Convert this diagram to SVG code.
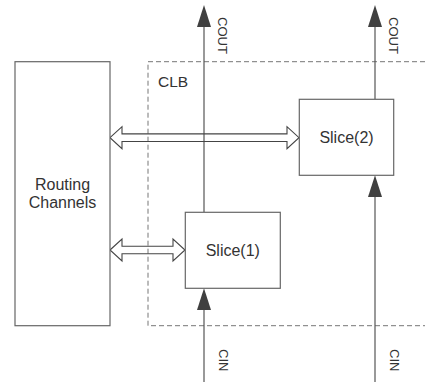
<svg xmlns="http://www.w3.org/2000/svg" width="425" height="382" viewBox="0 0 425 382">
<style>
.box{fill:#fff;stroke:#666;stroke-width:1.2}
.ln{stroke:#555;stroke-width:1.2;fill:none}
.dash{fill:none;stroke:#777;stroke-width:1;stroke-dasharray:5,3}
.head{fill:#404040;stroke:none}
.dbl{fill:none;stroke:#444;stroke-width:1.1;stroke-linejoin:miter}
.t{font-family:"Liberation Sans",Arial,sans-serif;font-size:16px;fill:#333}
.s{font-family:"Liberation Sans",Arial,sans-serif;font-size:13px;fill:#333}
</style>
<rect width="425" height="382" fill="#fff"/>
<g id="clb">
<path class="dash" d="M425,61.7 H148 V325.7 H425"/>
<text class="t" x="158" y="86.5" style="font-size:15.5px">CLB</text>
</g>
<g id="connectors">
<line class="ln" x1="204" y1="212" x2="204" y2="26"/>
<polygon class="head" points="204,5 197,27 211,27"/>
<line class="ln" x1="375" y1="99" x2="375" y2="26"/>
<polygon class="head" points="375,5 368,27 382,27"/>
<line class="ln" x1="204" y1="382" x2="204" y2="309"/>
<polygon class="head" points="204,288.3 197,310 211,310"/>
<line class="ln" x1="375" y1="382" x2="375" y2="196"/>
<polygon class="head" points="375,175.3 368,197 382,197"/>
<polygon class="dbl" points="110,137.7 122,126.7 122,133.9 287,133.9 287,126.7 299,137.7 287,148.7 287,141.5 122,141.5 122,148.7"/>
<polygon class="dbl" points="110,250 122,239 122,246.2 173,246.2 173,239 185,250 173,261 173,253.8 122,253.8 122,261"/>
<text class="s" transform="translate(218,17) rotate(90)">COUT</text>
<text class="s" transform="translate(388.5,17) rotate(90)">COUT</text>
<text class="s" transform="translate(219,349) rotate(90)">CIN</text>
<text class="s" transform="translate(389.5,349) rotate(90)">CIN</text>
</g>
<g id="routing">
<rect class="box" x="15" y="61.7" width="95" height="264"/>
<text class="t" x="62.5" y="190" text-anchor="middle">Routing</text>
<text class="t" x="62.5" y="207.5" text-anchor="middle">Channels</text>
</g>
<g id="slice1">
<rect class="box" x="185.3" y="212.3" width="95" height="76"/>
<text class="t" x="232.8" y="256" text-anchor="middle">Slice(1)</text>
</g>
<g id="slice2">
<rect class="box" x="299.3" y="99.3" width="94.4" height="76"/>
<text class="t" x="346.5" y="143" text-anchor="middle">Slice(2)</text>
</g>
</svg>
